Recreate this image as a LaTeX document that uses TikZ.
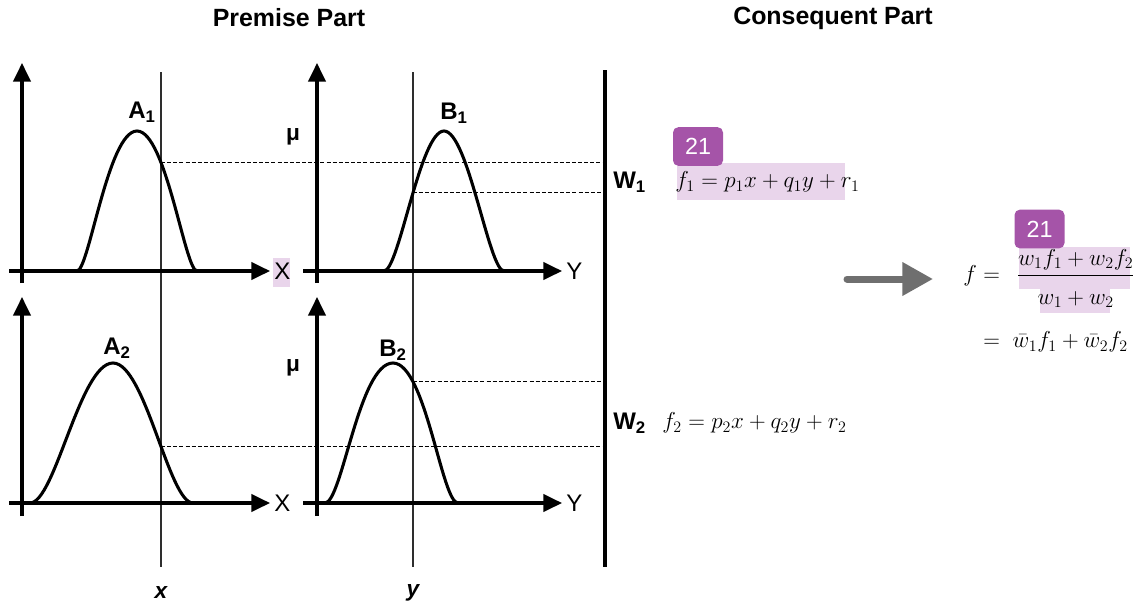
\documentclass[tikz,border=0pt]{standalone}
\usepackage{fontspec}
\setmainfont{Liberation Sans}
\usepackage{amsmath}
\usetikzlibrary{arrows.meta, intersections}
\definecolor{ink}{HTML}{000000}
\definecolor{guide}{HTML}{2E2E2E}
\definecolor{arrowGray}{HTML}{6F6F6F}
\definecolor{tagPurple}{HTML}{A554A8}
\definecolor{markLight}{HTML}{E9D5EB}

\tikzset{
  axisline/.style={ink, line width=2.5pt, -{Triangle[length=14pt, width=13pt]}},
  bell/.style={ink, line width=2.3pt},
  guideline/.style={guide, line width=1pt},
  cutline/.style={ink, line width=0.9pt, dash pattern=on 3pt off 1.6pt},
  title/.style={font=\fontsize{18.7}{22}\selectfont\bfseries},
  setname/.style={font=\fontsize{18}{21}\selectfont\bfseries},
  axisname/.style={font=\fontsize{18}{21}\selectfont, anchor=west, inner sep=0pt},
  muname/.style={font=\fontsize{17}{20}\selectfont\bfseries},
  inputname/.style={font=\fontsize{17}{20}\selectfont\bfseries\itshape},
  rule/.style={font=\fontsize{16.5}{19}\selectfont, anchor=west, inner sep=0pt},
  badgebox/.style={fill=tagPurple, text=white, rounded corners=4pt,
    minimum width=37.5pt, minimum height=29pt, inner sep=0pt,
    font=\fontsize{17.5}{20}\selectfont}
}

\begin{document}
\begin{tikzpicture}[x=0.75pt, y=-0.75pt]
  \useasboundingbox (0,0) rectangle (1136,607);

  \node[title] (premise) at (289,18) {Premise Part};
  \node[title] (consequent) at (833,18) {Consequent Part};

  \fill[markLight] (273,258) rectangle (290,287);
  \fill[markLight] (677,163) rectangle (845,200);
  \fill[markLight] (1019,247) rectangle (1130,289);
  \fill[markLight] (1040,283) rectangle (1110,313);

  \coordinate (ctop) at (605,70);
  \coordinate (cbot) at (605,567);
  \draw[ink, line width=2.3pt] (ctop) -- (cbot);

  \draw[guideline, name path=xline] (161,72) -- (161,567);
  \draw[guideline, name path=yline] (413,72) -- (413,567);

  \draw[axisline] (22,283) -- (22,63);
  \draw[axisline] (9,271) -- (270,271);
  \draw[axisline] (317,283) -- (317,63);
  \draw[axisline] (303,271) -- (562,271);
  \draw[axisline] (22,516) -- (22,297);
  \draw[axisline] (9,503) -- (270,503);
  \draw[axisline] (317,516) -- (317,297);
  \draw[axisline] (303,503) -- (562,503);

  \draw[bell, name path=bellA1] (77,271) .. controls (89,271) and (108,131) .. (137,131)
    .. controls (166,131) and (185,271) .. (197,271);
  \draw[bell, name path=bellB1] (384,271) .. controls (399,271) and (420,131) .. (444,131)
    .. controls (468,131) and (489,271) .. (504,271);
  \draw[bell, name path=bellA2] (30,503) .. controls (55,503) and (80,363) .. (113,363)
    .. controls (145,363) and (169,503) .. (193,503);
  \draw[bell, name path=bellB2] (325,503) .. controls (342,503) and (359,363) .. (393,363)
    .. controls (425.5,363) and (441.75,503) .. (458,503);

  \path[name intersections={of=bellA1 and xline, by=cutA1}];
  \path[name intersections={of=bellB1 and yline, by=cutB1}];
  \path[name intersections={of=bellA2 and xline, by=cutA2}];
  \path[name intersections={of=bellB2 and yline, by=cutB2}];
  \draw[cutline] (cutA1) -- (cutA1 -| ctop);
  \draw[cutline] (cutB1) -- (cutB1 -| ctop);
  \draw[cutline] (cutA2) -- (cutA2 -| ctop);
  \draw[cutline] (cutB2) -- (cutB2 -| ctop);

  \node[setname] (nameA1) at (142,112) {A\textsubscript{1}};
  \node[setname] (nameB1) at (454,113) {B\textsubscript{1}};
  \node[setname] (nameA2) at (117,348) {A\textsubscript{2}};
  \node[setname] (nameB2) at (393,350) {B\textsubscript{2}};
  \node[muname] (muTop) at (293,137) {μ};
  \node[muname] (muBot) at (293,368) {μ};
  \node[axisname] (xTop) at (274,271) {X};
  \node[axisname] (yTop) at (566,271) {Y};
  \node[axisname] (xBot) at (274,503) {X};
  \node[axisname] (yBot) at (566,503) {Y};
  \node[inputname] (xIn) at (161,593) {x};
  \node[inputname] (yIn) at (413,593) {y};

  \node[setname, anchor=west, inner sep=0pt] (w1) at (613,182) {W\textsubscript{1}};
  \node[setname, anchor=west, inner sep=0pt] (w2) at (613,423) {W\textsubscript{2}};
  \node[rule] (rule1) at (675,182) {$f_1 = p_1x + q_1y + r_1$};
  \node[rule] (rule2) at (662,423) {$f_2 = p_2x + q_2y + r_2$};

  \coordinate (arrowTail) at (847,279);
  \coordinate (arrowTip) at (933,279);
  \draw[arrowGray, line width=5.25pt, line cap=round, -{Triangle[length=23pt, width=24pt]}]
    (arrowTail) -- (arrowTip);

  \node[rule, font=\fontsize{17}{20}\selectfont, anchor=base west] (output) at (963,281)
    {$\begin{aligned}[t] f &= \;\,\dfrac{w_1 f_1 + w_2 f_2}{\rule{0pt}{1.15em}w_1 + w_2}\\[12pt]
       &= \;\bar{w}_1 f_1 + \bar{w}_2 f_2 \end{aligned}$};

  \node[badgebox] (tagRule1) at (698,146.5) {21};
  \node[badgebox] (tagOutput) at (1039.5,229) {21};
\end{tikzpicture}
\end{document}
